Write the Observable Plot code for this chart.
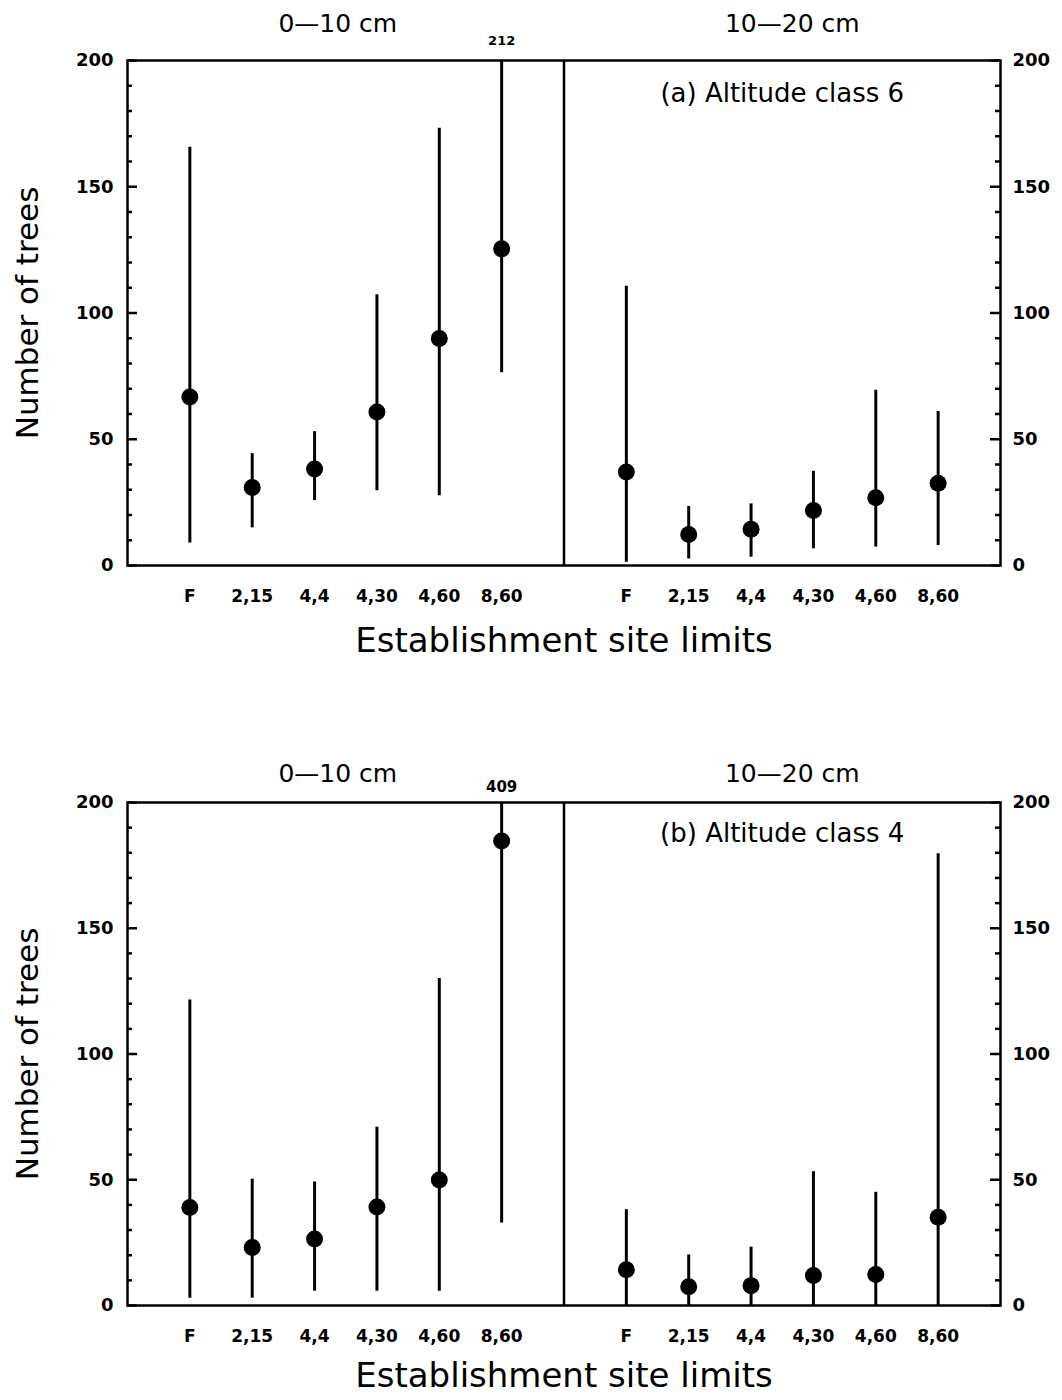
<!DOCTYPE html>
<html>
<head>
<meta charset="utf-8">
<script src="https://cdn.jsdelivr.net/npm/d3@7"></script>
<script src="https://cdn.jsdelivr.net/npm/@observablehq/plot@0.6"></script>
<style>
  html, body { margin: 0; padding: 0; background: #fff; }
  #chart { width: 1062px; }
  #chart svg { display: block; }
</style>
</head>
<body>
<div id="chart"></div>
<script>
// ---- Data ----
const sites = ["F", "2,15", "4,4", "4,30", "4,60", "8,60"];
const depths = ["0\u201410 cm", "10\u201420 cm"];
const panelTitles = ["(a) Altitude class 6", "(b) Altitude class 4"];
const yMajorTicks = [0, 50, 100, 150, 200];
const yMinorTicks = [10, 20, 30, 40, 60, 70, 80, 90, 110, 120, 130, 140, 160, 170, 180, 190];
const xLabel = "Establishment site limits";
const yLabel = "Number of trees";

// Panel (a) Altitude class 6
const a_0_10_mean = [66.7, 30.9, 38.2, 60.8, 89.9, 125.4];
const a_0_10_low  = [8.9, 14.9, 25.7, 29.6, 27.6, 76.3];
const a_0_10_high = [165.6, 44.3, 53.0, 107.2, 173.2, 212];
const a_10_20_mean = [37.0, 12.3, 14.4, 21.8, 26.8, 32.6];
const a_10_20_low  = [1.3, 2.6, 3.3, 6.6, 7.3, 7.9];
const a_10_20_high = [110.6, 23.4, 24.4, 37.3, 69.4, 61.0];

// Panel (b) Altitude class 4
const b_0_10_mean = [39.0, 23.1, 26.4, 39.2, 49.9, 184.7];
const b_0_10_low  = [2.9, 2.9, 5.7, 5.7, 5.7, 32.8];
const b_0_10_high = [121.5, 50.2, 49.1, 70.9, 130.0, 409];
const b_10_20_mean = [14.2, 7.5, 7.9, 11.9, 12.3, 35.1];
const b_10_20_low  = [0, 0, 0, 0, 0, 0];
const b_10_20_high = [38.1, 20.1, 23.2, 53.2, 45.0, 179.6];

const yMax = 200;

function rowsFor(groups) {
  const rows = [];
  groups.forEach((g, d) => {
    sites.forEach((s, i) => {
      rows.push({depth: depths[d], site: s, pos: d * (sites.length + 1) + i + 1,
                 mean: g.mean[i], low: g.low[i], high: g.high[i]});
    });
  });
  return rows;
}

const panels = [
  {title: panelTitles[0], height: 742, marginBottom: 177, overflowSize: 13, overflowDy: -20,
   headDy: -37, titleDy: 33, xLabelDy: 76,
   rows: rowsFor([{mean: a_0_10_mean, low: a_0_10_low, high: a_0_10_high},
                  {mean: a_10_20_mean, low: a_10_20_low, high: a_10_20_high}])},
  {title: panelTitles[1], height: 658, marginBottom: 95, overflowSize: 15, overflowDy: -15,
   headDy: -29, titleDy: 31, xLabelDy: 71,
   rows: rowsFor([{mean: b_0_10_mean, low: b_0_10_low, high: b_0_10_high},
                  {mean: b_10_20_mean, low: b_10_20_low, high: b_10_20_high}])}
];

const nPer = sites.length + 1;           // 7 slots per depth half
const xMax = nPer * depths.length;       // 14
const tickPositions = panels[0].rows.map(r => r.pos);
const labelByPos = new Map(panels[0].rows.map(r => [r.pos, r.site]));
const depthCenters = depths.map((d, i) => i * nPer + nPer / 2);
const dividers = d3.range(1, depths.length).map(i => i * nPer);
const headShift = [-8, 10];

const W = 1062, mL = 127, mR = 62, mT = 60;
const frameW = W - mL - mR;
const font = "DejaVu Sans, sans-serif";

for (const p of panels) {
  const chart = Plot.plot({
    width: W,
    height: p.height,
    marginLeft: mL,
    marginRight: mR,
    marginTop: mT,
    marginBottom: p.marginBottom,
    style: {fontFamily: font, color: "#000", background: "#fff"},
    x: {domain: [0, xMax], axis: null},
    y: {domain: [0, yMax], axis: null},
    marks: [
      Plot.frame({stroke: "#000", strokeWidth: 2.5}),
      Plot.ruleX(dividers, {stroke: "#000", strokeWidth: 2.5}),
      // inward ticks, left and right
      Plot.tickY(yMajorTicks, {y: d => d, insetRight: frameW - 10, strokeWidth: 2.5}),
      Plot.tickY(yMinorTicks, {y: d => d, insetRight: frameW - 5, strokeWidth: 2.5}),
      Plot.tickY(yMajorTicks, {y: d => d, insetLeft: frameW - 10, strokeWidth: 2.5}),
      Plot.tickY(yMinorTicks, {y: d => d, insetLeft: frameW - 5, strokeWidth: 2.5}),
      // error bars and means
      Plot.ruleX(p.rows, {x: "pos", y1: "low", y2: d => Math.min(d.high, yMax),
                          stroke: "#000", strokeWidth: 3}),
      Plot.dot(p.rows, {x: "pos", y: "mean", r: 8.5, fill: "#000", stroke: null}),
      // values off the top of the scale
      Plot.text(p.rows.filter(d => d.high > yMax), {x: "pos", text: d => String(d.high),
        frameAnchor: "top", lineAnchor: "middle", dy: p.overflowDy, fontWeight: "bold",
        fontSize: p.overflowSize}),
      // depth headings
      ...depths.map((d, i) => Plot.text([d], {x: () => depthCenters[i], text: t => t,
        frameAnchor: "top", lineAnchor: "middle", dy: p.headDy, dx: headShift[i], fontSize: 25})),
      // panel title
      Plot.text([p.title], {x: () => depthCenters[depthCenters.length - 1], text: d => d,
        frameAnchor: "top", lineAnchor: "middle", dy: p.titleDy, fontSize: 26}),
      // axes tick labels
      Plot.axisY({ticks: yMajorTicks, anchor: "left", tickSize: 0, tickPadding: 14,
        label: null, fontWeight: "bold", fontSize: 18}),
      Plot.axisY({ticks: yMajorTicks, anchor: "right", tickSize: 0, tickPadding: 12,
        label: null, fontWeight: "bold", fontSize: 18}),
      Plot.axisX({ticks: tickPositions, tickFormat: d => labelByPos.get(d), tickSize: 0,
        tickPadding: 24, label: null, fontWeight: "bold", fontSize: 17}),
      // axis titles
      Plot.text([xLabel], {x: () => xMax / 2, text: d => d, frameAnchor: "bottom",
        lineAnchor: "middle", dy: p.xLabelDy, fontSize: 34}),
      Plot.text([yLabel], {text: d => d, frameAnchor: "left", textAnchor: "middle",
        lineAnchor: "middle", rotate: -90, dx: -99, fontSize: 31})
    ]
  });
  document.getElementById("chart").appendChild(chart);
}
</script>
</body>
</html>
